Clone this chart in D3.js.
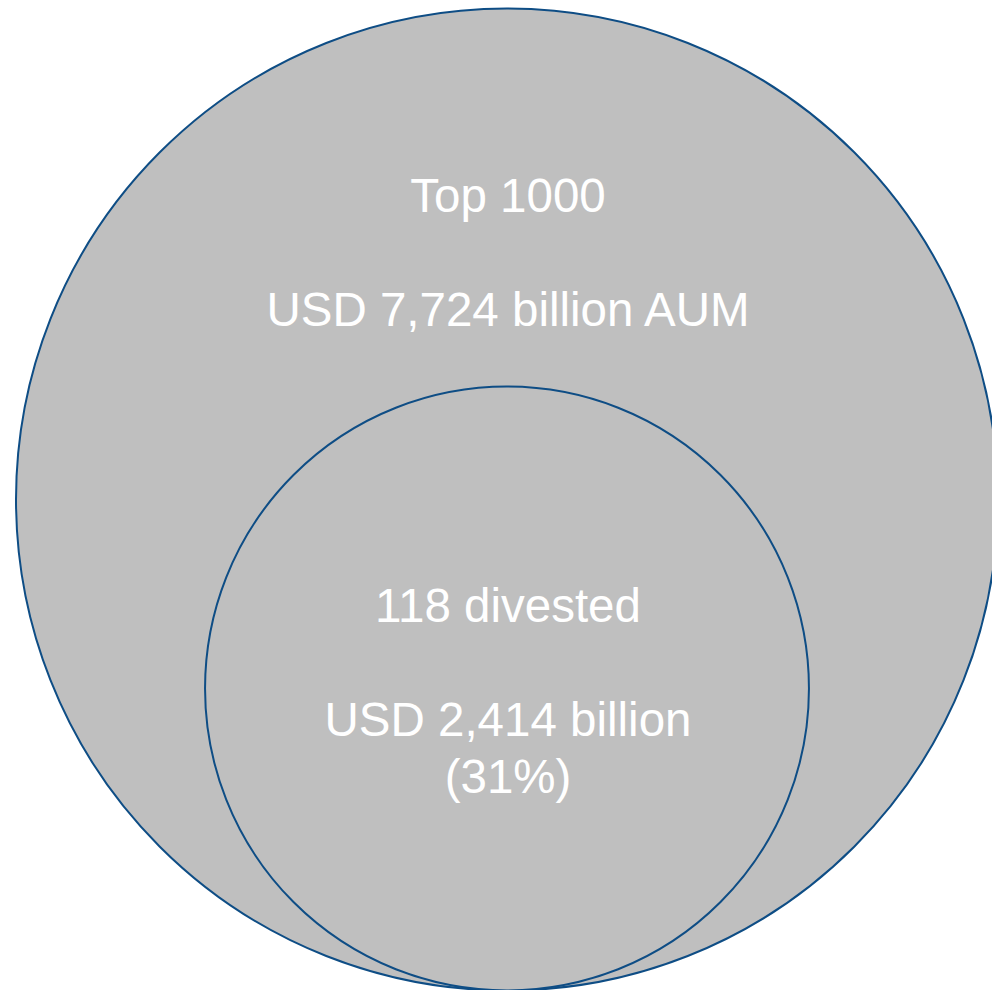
<!DOCTYPE html>
<html>
<head>
<meta charset="utf-8">
<script src="https://cdn.jsdelivr.net/npm/d3@7"></script>
<style>
  html, body { margin: 0; padding: 0; background: #fff; }
  svg { display: block; }
</style>
</head>
<body>
<svg id="chart"></svg>
<script>
// nested circles: total universe and the divested subset
const groups = ["Top 1000", "118 divested"];
const aum = [7724, 2414];
const labels = [
  ["Top 1000", "", "USD 7,724 billion AUM"],
  ["118 divested", "", "USD 2,414 billion", "(31%)"]
];

const width = 992, height = 990;
const cx = 507, baseY = 990.5;

const svg = d3.select("#chart")
  .attr("width", width)
  .attr("height", height);

// radius from AUM
const r = d3.scalePow().exponent(0.418)
  .domain([0, d3.max(aum)])
  .range([0, 491]);

const nodes = groups.map((g, i) => ({ name: g, value: aum[i], lines: labels[i] }));

svg.selectAll("circle")
  .data(nodes)
  .enter().append("circle")
  .attr("cx", cx)
  .attr("cy", d => baseY - r(d.value))
  .attr("r", d => r(d.value))
  .attr("fill", "#bfbfbf")
  .attr("stroke", "#0e4d85")
  .attr("stroke-width", 2);

const fontSize = 47.5, lineH = 57;
// first baseline offset from top of each circle
const firstBase = [203, 235];

svg.selectAll("text.label")
  .data(nodes)
  .enter().append("text")
  .attr("class", "label")
  .attr("x", cx + 1)
  .attr("y", (d, i) => baseY - 2 * r(d.value) + firstBase[i])
  .attr("text-anchor", "middle")
  .attr("font-family", "'Liberation Sans', Arial, sans-serif")
  .attr("font-size", fontSize)
  .attr("fill", "#ffffff")
  .each(function(d) {
    const t = d3.select(this);
    d.lines.forEach((line, j) => {
      t.append("tspan")
        .attr("x", cx + 1)
        .attr("dy", j === 0 ? 0 : lineH)
        .text(line === "" ? "\u00a0" : line);
    });
  });
</script>
</body>
</html>
